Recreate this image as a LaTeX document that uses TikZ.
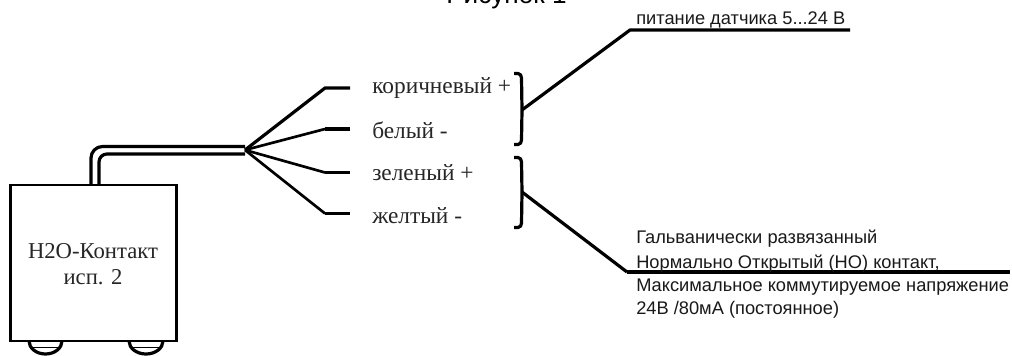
\documentclass[tikz,border=0pt]{standalone}
\usepackage{fontspec}
\setmainfont{Liberation Serif}
\newfontfamily\sansf{Liberation Sans}
\tikzset{
  x=0.75pt,y=-0.75pt,
  wire/.style={line width=2.4pt,line join=round,black},
  thinwire/.style={line width=2pt,line join=round,black},
  serlabel/.style={anchor=base west,inner sep=0pt,font=\fontsize{17.5pt}{20pt}\selectfont,text=black!85},
  devlabel/.style={anchor=base,inner sep=0pt,font=\fontsize{17pt}{20pt}\selectfont,text=black!85},
  sanlabel/.style={anchor=base west,inner sep=0pt,font=\sansf\fontsize{13.7pt}{16pt}\selectfont,text=black!90},
  devbox/.style={draw=black,line width=2.2pt,fill=white,minimum width=125pt,minimum height=117pt,inner sep=0pt,align=center}
}
\begin{document}
\begin{tikzpicture}
\useasboundingbox (0,0) rectangle (1012,355);
\fill[white] (0,0) rectangle (1012,355);
\clip (0,0) rectangle (1012,355);
% title, cut by top edge
\node[anchor=base west,inner sep=0pt,font=\sansf\fontsize{19.6pt}{22pt}\selectfont] (title) at (446,3) {Рисунок 1};
% feet
\draw[wire] (29,341) arc[start angle=180,end angle=0,x radius=16.5,y radius=13];
\draw[wire] (129,341) arc[start angle=180,end angle=0,x radius=17,y radius=13];
\draw[line width=1.1pt] (31,347.5) -- (61,347.5);
\draw[line width=1.1pt] (131,347.5) -- (161,347.5);
% cable
\coordinate (hub) at (245,150);
\coordinate (cablea) at (245,146.5);
\coordinate (cableb) at (245,154);
\coordinate (devA) at (91,185);
\coordinate (devB) at (99,185);
\draw[wire] (devA) -- (91,158) arc[start angle=180,end angle=270,radius=11.5] -- (cablea);
\draw[wire] (devB) -- (99,162) arc[start angle=180,end angle=270,radius=8] -- (cableb);
% box
\node[devbox] (dev) at (93.5,263) {};
\node[devlabel] (devt1) at (93,258) {H2O-Контакт};
\node[devlabel] (devt2) at (93,284) {исп. 2};
% wires
\coordinate (w1a) at (325,88);\coordinate (w1b) at (350,88);
\coordinate (w2a) at (325,129);\coordinate (w2b) at (350,129);
\coordinate (w3a) at (325,172.5);\coordinate (w3b) at (350,172.5);
\coordinate (w4a) at (325,213.5);\coordinate (w4b) at (350,213.5);
\draw[wire] (hub) -- (w1a) -- (w1b);
\draw[thinwire] (hub) -- (w2a); \draw[wire] (w2a) -- (w2b);
\draw[thinwire] (hub) -- (w3a); \draw[wire] (w3a) -- (w3b);
\draw[thinwire] (hub) -- (w4a); \draw[wire] (w4a) -- (w4b);
% labels
\node[serlabel] (l1) at (372,93) {коричневый +};
\node[serlabel] (l2) at (372,138) {белый -};
\node[serlabel] (l3) at (372,180) {зеленый +};
\node[serlabel] (l4) at (372,223) {желтый -};
% braces
\coordinate (b1) at (522,110);
\coordinate (b2) at (522,192);
\draw[wire] (514,73.5) -- (518,73.5) to[out=0,in=90] (521.5,78) -- (b1) -- (521.5,140) to[out=270,in=0] (518,144.5) -- (514,144.5);
\draw[wire] (514,157.5) -- (518,157.5) to[out=0,in=90] (521.5,162) -- (b2) -- (521.5,223) to[out=270,in=0] (518,227.5) -- (514,227.5);
% leaders
\coordinate (t1) at (630,30);\coordinate (t1e) at (850,30);
\coordinate (t2) at (627,272);\coordinate (t2e) at (1010,272);
\draw[wire] (b1) -- (t1) -- (t1e);
\draw[wire] (b2) -- (t2);
\draw[wire] (t2) -- (t2e);
% right labels
\node[sanlabel] (r1) at (636,24) {питание датчика 5...24 В};
\node[sanlabel] (r2) at (636,243) {Гальванически развязанный};
\node[sanlabel] (r3) at (636,268) {Нормально Открытый (НО) контакт,};
\node[sanlabel] (r4) at (636,291) {Максимальное коммутируемое напряжение};
\node[sanlabel] (r5) at (636,314) {24В /80мА (постоянное)};
\end{tikzpicture}
\end{document}
